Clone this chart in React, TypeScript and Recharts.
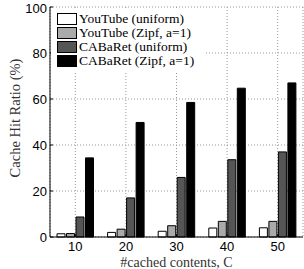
import { Bar, BarChart, CartesianGrid, Label, Legend, XAxis, YAxis } from 'recharts';

const categories = ['10', '20', '30', '40', '50'];
const youtubeUniform = [1.4, 2.0, 2.5, 3.9, 4.0];
const youtubeZipf = [1.5, 3.4, 4.9, 6.8, 6.8];
const cabaretUniform = [8.7, 17.0, 25.9, 33.6, 37.0];
const cabaretZipf = [34.4, 49.8, 58.5, 64.7, 67.0];
const yTicks = [0, 20, 40, 60, 80, 100];

const series = [
  { key: 'ytU', name: 'YouTube (uniform)', fill: '#ffffff', values: youtubeUniform },
  { key: 'ytZ', name: 'YouTube (Zipf, a=1)', fill: '#aaaaaa', values: youtubeZipf },
  { key: 'cbU', name: 'CABaRet (uniform)', fill: '#555555', values: cabaretUniform },
  { key: 'cbZ', name: 'CABaRet (Zipf, a=1)', fill: '#000000', values: cabaretZipf }
];

const data = categories.map((c, i) => {
  const row: Record<string, string | number> = { c };
  series.forEach((s) => {
    row[s.key] = s.values[i];
  });
  return row;
});

const serif = '"Liberation Serif", "Times New Roman", serif';
const sans = '"Liberation Sans", Arial, sans-serif';

function LegendBox() {
  return (
    <div style={{ background: '#fff', padding: '4px 6px', width: 142, fontFamily: serif, fontSize: 13.5 }}>
      {series.map((s) => (
        <div key={s.key} style={{ display: 'flex', alignItems: 'center', height: 14, whiteSpace: 'nowrap' }}>
          <span
            style={{
              display: 'inline-block',
              width: 18,
              height: 10,
              background: s.fill,
              border: '1px solid #000',
              marginRight: 2
            }}
          />
          <span>{s.name}</span>
        </div>
      ))}
    </div>
  );
}

function YLabel(props: { viewBox?: { x: number; y: number; width: number; height: number } }) {
  const vb = props.viewBox ?? { x: 0, y: 0, width: 0, height: 0 };
  const x = vb.x + 20;
  const y = vb.y + vb.height / 2 - 4;
  return (
    <text
      x={x}
      y={y}
      transform={`rotate(-90, ${x}, ${y})`}
      textAnchor="middle"
      fontFamily={serif}
      fontSize={14.5}
      fill="#333"
    >
      Cache Hit Ratio (%)
    </text>
  );
}

export default function App() {
  return (
    <div style={{ position: 'absolute', left: 0, top: 0, background: '#fff' }}>
      <BarChart
        width={304}
        height={269}
        data={data}
        margin={{ top: 7, right: 1, bottom: 0, left: 0 }}
        barCategoryGap={7}
        barGap={1.5}
      >
        <CartesianGrid stroke="#999" strokeDasharray="1 2" />
        <XAxis
          dataKey="c"
          height={32}
          tickSize={-3}
          tickMargin={8}
          axisLine={{ stroke: '#000' }}
          tickLine={{ stroke: '#000' }}
          tick={{ fill: '#000', fontFamily: sans, fontSize: 13 }}
        >
          <Label
            value="#cached contents, C"
            position="insideBottom"
            offset={2}
            style={{ fontFamily: serif, fontSize: 14, fill: '#333' }}
          />
        </XAxis>
        <XAxis
          xAxisId="top"
          dataKey="c"
          orientation="top"
          height={0}
          tickSize={-3}
          tick={false}
          axisLine={{ stroke: '#000' }}
          tickLine={{ stroke: '#000' }}
        />
        <YAxis
          width={50}
          domain={[0, 100]}
          ticks={yTicks}
          tickSize={-3}
          tickMargin={6}
          axisLine={{ stroke: '#000' }}
          tickLine={{ stroke: '#000' }}
          tick={{ fill: '#000', fontFamily: sans, fontSize: 13 }}
        >
          <Label content={<YLabel />} />
        </YAxis>
        <YAxis
          yAxisId="right"
          orientation="right"
          width={0}
          type="number"
          domain={[0, 100]}
          ticks={yTicks}
          tickSize={-3}
          tick={false}
          axisLine={{ stroke: '#000' }}
          tickLine={{ stroke: '#000' }}
        />
        <Legend
          layout="horizontal"
          verticalAlign="middle"
          align="center"
          content={<LegendBox />}
          wrapperStyle={{ position: 'absolute', left: 51, top: 8, width: 'auto', height: 'auto' }}
        />
        {series.map((s) => (
          <Bar
            key={s.key}
            dataKey={s.key}
            name={s.name}
            fill={s.fill}
            stroke="#000"
            strokeWidth={1}
            isAnimationActive={false}
          />
        ))}
      </BarChart>
    </div>
  );
}
